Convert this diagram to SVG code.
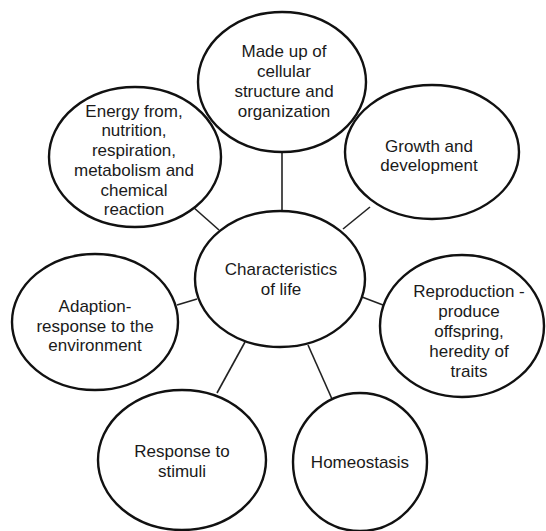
<svg xmlns="http://www.w3.org/2000/svg" width="546" height="531" viewBox="0 0 546 531">
<style>
.n ellipse{fill:#fff;stroke:#111;stroke-width:2.4}
.c line{stroke:#222;stroke-width:1.6}
text{font-family:"Liberation Sans",Arial,sans-serif;font-size:17px;fill:#1a1a1a;text-anchor:middle}
</style>
<rect width="546" height="531" fill="#fff"/>
<g class="c" id="connectors">
<line x1="282" y1="152" x2="282" y2="211"/>
<line x1="193" y1="207" x2="219" y2="230"/>
<line x1="343" y1="229" x2="370" y2="207"/>
<line x1="177" y1="305" x2="197" y2="299"/>
<line x1="362" y1="297" x2="383" y2="305"/>
<line x1="217" y1="393" x2="245" y2="342"/>
<line x1="308" y1="345" x2="332" y2="399"/>
</g>
<g class="n" id="center">
<ellipse cx="280" cy="279" rx="85" ry="68"/>
<text x="281" y="275">Characteristics</text>
<text x="281" y="295">of life</text>
</g>
<g class="n" id="cellular">
<ellipse cx="282" cy="82" rx="84" ry="70"/>
<text x="284" y="57">Made up of</text>
<text x="284" y="77">cellular</text>
<text x="284" y="97">structure and</text>
<text x="284" y="117">organization</text>
</g>
<g class="n" id="energy">
<ellipse cx="135" cy="157" rx="86" ry="70"/>
<text x="134" y="117">Energy from,</text>
<text x="134" y="136">nutrition,</text>
<text x="134" y="156">respiration,</text>
<text x="134" y="176">metabolism and</text>
<text x="134" y="196">chemical</text>
<text x="134" y="215">reaction</text>
</g>
<g class="n" id="growth">
<ellipse cx="432" cy="152" rx="87" ry="67"/>
<text x="429" y="152">Growth and</text>
<text x="429" y="171">development</text>
</g>
<g class="n" id="adaption">
<ellipse cx="95" cy="322" rx="83" ry="68"/>
<text x="95" y="312">Adaption-</text>
<text x="95" y="332">response to the</text>
<text x="95" y="351">environment</text>
</g>
<g class="n" id="reproduction">
<ellipse cx="462" cy="326" rx="82" ry="71"/>
<text x="469" y="297">Reproduction -</text>
<text x="469" y="317">produce</text>
<text x="469" y="337">offspring,</text>
<text x="469" y="357">heredity of</text>
<text x="469" y="377">traits</text>
</g>
<g class="n" id="stimuli">
<ellipse cx="182" cy="460" rx="84" ry="70"/>
<text x="182" y="457">Response to</text>
<text x="182" y="477">stimuli</text>
</g>
<g class="n" id="homeostasis">
<ellipse cx="360" cy="462" rx="67" ry="69"/>
<text x="360" y="468">Homeostasis</text>
</g>
</svg>
